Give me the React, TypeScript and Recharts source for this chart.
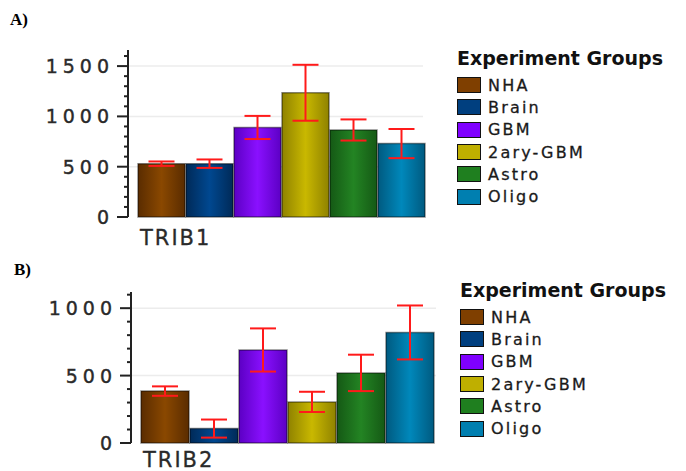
import { Bar, BarChart, CartesianGrid, ErrorBar, XAxis, YAxis } from "recharts";

const GROUPS = ["NHA", "Brain", "GBM", "2ary-GBM", "Astro", "Oligo"];
const SWATCH = ["#7f3f00", "#003f7f", "#7f00ff", "#bfaf00", "#1f7f1f", "#007fb0"];
const EDGE = ["#5a2c00", "#002a58", "#5c00c4", "#8f8200", "#155915", "#005a80"];
const MID = ["#8a4800", "#004890", "#8a10ff", "#c9b800", "#238423", "#0088bb"];

const TRIB1_VALUES = [530, 530, 890, 1235, 865, 730];
const TRIB1_ERRORS = [22, 42, 115, 278, 105, 145];
const TRIB2_VALUES = [385, 107, 690, 305, 520, 820];
const TRIB2_ERRORS = [35, 67, 160, 75, 135, 200];

const TRIB1_TICKS = [0, 100, 200, 300, 400, 500, 600, 700, 800, 900, 1000, 1100, 1200, 1300, 1400, 1500, 1600];
const TRIB2_TICKS = [0, 100, 200, 300, 400, 500, 600, 700, 800, 900, 1000, 1100];
const TRIB1_GRID = [500, 1000, 1500];
const TRIB2_GRID = [500, 1000];

const FONT = "'DejaVu Sans', Arial, sans-serif";

function buildRow(gene: string, values: number[], errors: number[]) {
    const row: Record<string, string | number> = { gene };
    values.forEach((v, i) => {
        row["g" + i] = v;
        row["g" + i + "err"] = errors[i];
    });
    return [row];
}

const YTick = (props: any) => {
    const { x, y, payload } = props;
    const major = payload.value % 500 === 0;
    return (
        <g>
            <line x1={x - (major ? 11 : 4)} x2={x} y1={y} y2={y} stroke="#222" strokeWidth={2} />
            {major && (
                <text x={x - 14} y={y} textAnchor="end" dominantBaseline="central"
                    fill="#2a2a2a" stroke="#2a2a2a" strokeWidth={0.4} fontSize={19} letterSpacing={5}
                    fontFamily={FONT}>
                    {payload.value}
                </text>
            )}
        </g>
    );
};

type PanelProps = {
    id: string;
    tag: string;
    gene: string;
    values: number[];
    errors: number[];
    ticks: number[];
    grid: number[];
    max: number;
    top: number;
    width: number;
    height: number;
    marginTop: number;
    marginRight: number;
    axisWidth: number;
    xAxisHeight: number;
    labelDy: number;
    legendX: number;
    legendTop: number;
};

function Legend({ x, top }: { x: number; top: number }) {
    return (
        <div style={{ position: "absolute", left: x, top, fontFamily: FONT }}>
            <div style={{ fontSize: 19, fontWeight: "bold", color: "#111", lineHeight: "20px", height: 26 }}>
                Experiment Groups
            </div>
            {GROUPS.map((g, i) => (
                <div key={g} style={{ display: "flex", alignItems: "center", height: 22.3 }}>
                    <div style={{
                        width: 22, height: 14, background: SWATCH[i], border: "1.5px solid #111",
                        marginRight: 7,
                    }} />
                    <span style={{ fontSize: 16, letterSpacing: 2.2, color: "#1a1a1a", WebkitTextStroke: "0.3px #1a1a1a" }}>{g}</span>
                </div>
            ))}
        </div>
    );
}

function Panel(p: PanelProps) {
    const data = buildRow(p.gene, p.values, p.errors);
    const halfBand = (p.width - p.axisWidth - p.marginRight - 10) / 2;
    const XTick = (props: any) => (
        <text x={props.x - halfBand + 2} y={props.y + p.labelDy} fill="#2a2a2a" stroke="#2a2a2a"
            strokeWidth={0.3} fontSize={21} letterSpacing={2} fontFamily={FONT}>
            {props.payload.value}
        </text>
    );
    return (
        <>
            <div style={{
                position: "absolute", left: p.id === "a" ? 10 : 14, top: p.top + (p.id === "a" ? 10 : 10),
                fontFamily: "'Liberation Serif', serif", fontWeight: "bold", fontSize: 17,
            }}>
                {p.tag}
            </div>
            <div style={{ position: "absolute", left: 0, top: p.top }}>
                <BarChart width={p.width} height={p.height} data={data}
                    margin={{ top: p.marginTop, right: p.marginRight, left: 0, bottom: 0 }}
                    barGap={1} barCategoryGap={0}>
                    <defs>
                        {GROUPS.map((g, i) => (
                            <linearGradient key={g} id={`${p.id}grad${i}`} x1="0" y1="0" x2="1" y2="0">
                                <stop offset="0%" stopColor={EDGE[i]} />
                                <stop offset="50%" stopColor={MID[i]} />
                                <stop offset="100%" stopColor={EDGE[i]} />
                            </linearGradient>
                        ))}
                    </defs>
                    <CartesianGrid vertical={false} horizontalValues={p.grid} stroke="#ececec" strokeWidth={1.5} />
                    <XAxis dataKey="gene" height={p.xAxisHeight} padding={{ left: 10, right: 0 }}
                        axisLine={false} tickLine={false} tickSize={0} tickMargin={0} tick={<XTick />} />
                    <YAxis type="number" domain={[0, p.max]} ticks={p.ticks} width={p.axisWidth}
                        interval={0} axisLine={{ stroke: "#222", strokeWidth: 2 }} tickLine={false}
                        tickSize={0} tickMargin={0} tick={<YTick />} />
                    {GROUPS.map((g, i) => (
                        <Bar key={g} dataKey={`g${i}`} name={g} fill={`url(#${p.id}grad${i})`}
                            stroke="rgba(0,0,0,0.45)" strokeWidth={1.5} isAnimationActive={false}>
                            <ErrorBar dataKey={`g${i}err`} width={13} stroke="#ff1a1a" strokeWidth={2}
                                direction="y" />
                        </Bar>
                    ))}
                </BarChart>
            </div>
            <Legend x={p.legendX} top={p.legendTop} />
        </>
    );
}

export default function App() {
    return (
        <div style={{ position: "absolute", left: 0, top: 0, width: 686, height: 471, background: "#fff", overflow: "hidden" }}>
            <Panel id="a" tag="A)" gene="TRIB1" values={TRIB1_VALUES} errors={TRIB1_ERRORS}
                ticks={TRIB1_TICKS} grid={TRIB1_GRID} max={1660} top={0} width={440} height={250}
                marginTop={50} marginRight={17} axisWidth={128} xAxisHeight={33} labelDy={28}
                legendX={457} legendTop={48} />
            <Panel id="b" tag="B)" gene="TRIB2" values={TRIB2_VALUES} errors={TRIB2_ERRORS}
                ticks={TRIB2_TICKS} grid={TRIB2_GRID} max={1120} top={250} width={450} height={221}
                marginTop={42} marginRight={14} axisWidth={131} xAxisHeight={28} labelDy={24}
                legendX={460} legendTop={280} />
        </div>
    );
}
